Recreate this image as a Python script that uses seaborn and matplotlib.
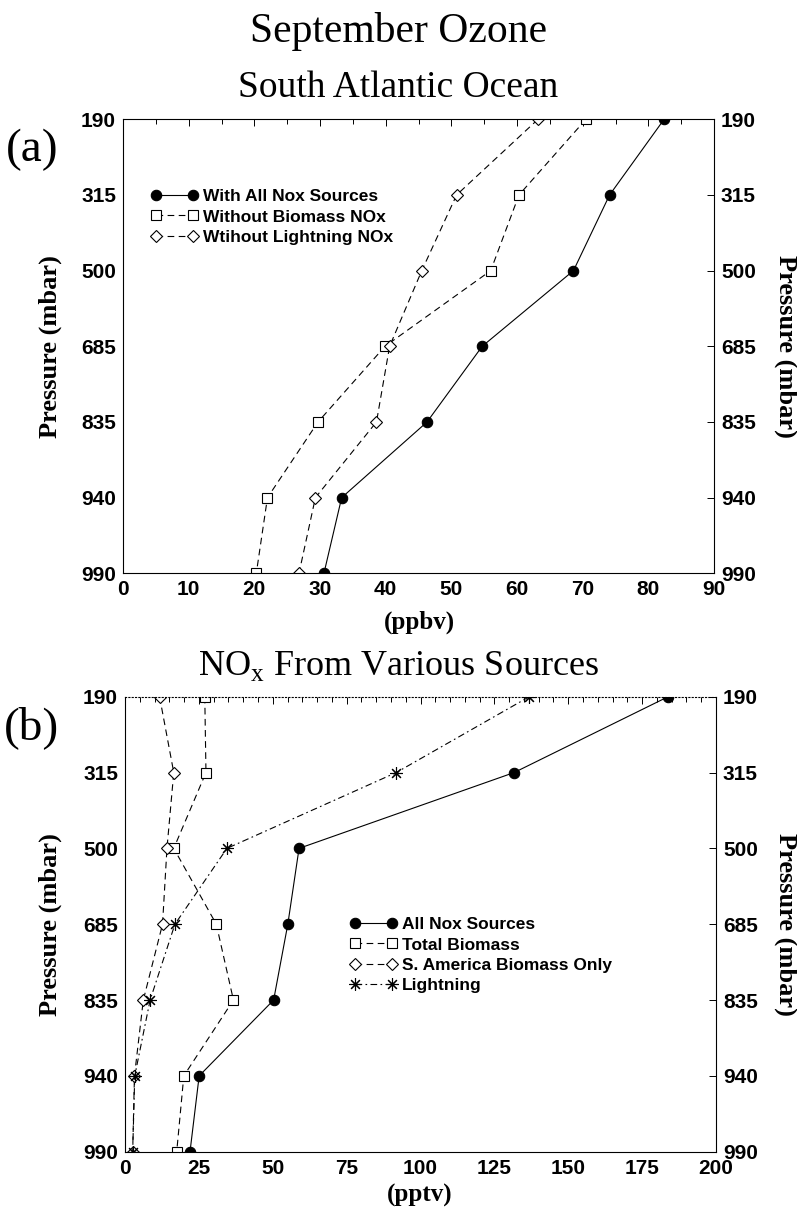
import numpy as np
import pandas as pd
import matplotlib
matplotlib.use("Agg")
import matplotlib.pyplot as plt
from matplotlib.font_manager import FontProperties
import seaborn as sns

# ---------------- data ----------------
pressure_levels = ["190", "315", "500", "685", "835", "940", "990"]

# (a) September ozone, South Atlantic (ppbv)
ozone_all = [82.4, 74.1, 68.6, 54.7, 46.3, 33.3, 30.6]
ozone_no_biomass = [70.5, 60.3, 56.0, 39.9, 29.7, 22.0, 20.3]
ozone_no_lightning = [63.2, 50.8, 45.5, 40.6, 38.6, 29.3, 26.8]
labels_a = ["With All Nox Sources", "Without Biomass NOx", "Wtihout Lightning NOx"]

# (b) NOx from various sources (pptv)
nox_all = [183.8, 131.7, 58.9, 55.1, 50.3, 25.1, 22.0]
nox_total_biomass = [27.0, 27.4, 16.5, 30.9, 36.7, 19.9, 17.5]
nox_sa_biomass = [11.7, 16.5, 14.2, 12.7, 6.2, 3.2, 2.6]
nox_lightning = [136.8, 91.8, 34.5, 16.9, 8.5, 3.3, 2.6]
labels_b = ["All Nox Sources", "Total Biomass", "S. America Biomass Only", "Lightning"]

# ---------------- styles ----------------
sns.set_theme(style="white")
plt.rcParams["font.family"] = ["Liberation Sans", "DejaVu Sans"]
plt.rcParams["text.color"] = "black"

W, H = 797, 1211
fig = plt.figure(figsize=(W / 100, H / 100), dpi=100)

def px_axes(l, t, r, b):
    return [l / W, 1 - b / H, (r - l) / W, (b - t) / H]

ax_a = fig.add_axes(px_axes(123, 119.3, 714, 573.3))
ax_b = fig.add_axes(px_axes(125, 696.7, 716, 1151.7))

ypos = list(range(len(pressure_levels)))

solid = dict(marker="o", markersize=7.5, markerfacecolor="black", linestyle="-")
square = dict(marker="s", markersize=6.5, markerfacecolor="white", linestyle=(0, (6, 4)))
diamond = dict(marker="D", markersize=6.5, markerfacecolor="white", linestyle=(0, (6, 4)))
star = dict(marker=(8, 2, 0), markersize=9, markerfacecolor="black", linestyle=(0, (6, 3, 1.5, 3)))

def draw(ax, values, label, style):
    df = pd.DataFrame({"v": values, "p": ypos})
    sns.lineplot(data=df, x="v", y="p", ax=ax, sort=False, estimator=None,
                 color="black", linewidth=0.8, markeredgecolor="black",
                 markeredgewidth=0.8, label=label, **style)

draw(ax_a, ozone_all, labels_a[0], solid)
draw(ax_a, ozone_no_biomass, labels_a[1], square)
draw(ax_a, ozone_no_lightning, labels_a[2], diamond)

draw(ax_b, nox_all, labels_b[0], solid)
draw(ax_b, nox_total_biomass, labels_b[1], square)
draw(ax_b, nox_sa_biomass, labels_b[2], diamond)
draw(ax_b, nox_lightning, labels_b[3], star)

tick_font = FontProperties(family="Liberation Sans", weight="bold", size=15)
leg_font = FontProperties(family="Liberation Sans", weight="bold", size=12.5)
serif = "Liberation Serif"

def style_axes(ax, xmax, major, minor):
    ax.set_xlim(0, xmax)
    ax.set_ylim(len(pressure_levels) - 1, 0)
    ax.set_xticks(np.arange(0, xmax + 0.1, major))
    ax.set_xticks(np.arange(0, xmax + 0.1, minor), minor=True)
    ax.set_yticks(ypos)
    ax.set_yticklabels(pressure_levels)
    ax.set_xlabel("")
    ax.set_ylabel("")
    ax.tick_params(axis="both", which="both", direction="in", top=True, right=True,
                   labelright=True, width=0.7, colors="black")
    ax.tick_params(axis="both", which="major", length=5)
    ax.tick_params(axis="both", which="minor", length=3.5)
    ax.tick_params(axis="x", pad=5)
    ax.tick_params(axis="y", pad=5)
    for lab in ax.get_xticklabels() + ax.get_yticklabels():
        lab.set_fontproperties(tick_font)
    for sp in ax.spines.values():
        sp.set_linewidth(0.8)
        sp.set_color("black")
    ax.set_facecolor("white")

style_axes(ax_a, 90, 10, 5)
style_axes(ax_b, 200, 25, 5)
ax_b.spines["top"].set_linestyle((0, (1, 2)))

def legend(ax, x, y):
    h, l = ax.get_legend_handles_labels()
    ax.legend(h, l, loc="upper left", bbox_to_anchor=(x / W, 1 - y / H),
              bbox_transform=fig.transFigure, frameon=False, numpoints=2,
              handlelength=2.7, handletextpad=0.3, labelspacing=0.3,
              borderpad=0, borderaxespad=0, prop=leg_font)

legend(ax_a, 151, 189)
legend(ax_b, 350, 917)

# ---------------- texts ----------------
fig.text(0.5, 1 - 42 / H, "September Ozone", ha="center", va="baseline", family=serif, size=30)
fig.text(0.5, 1 - 97 / H, "South Atlantic Ocean", ha="center", va="baseline", family=serif, size=27)
fig.text(0.5, 1 - 675 / H, r"NO$_{\mathregular{x}}$ From Various Sources", ha="center",
         va="baseline", family=serif, size=26)

fig.text(32 / W, 1 - 150 / H, "(a)", ha="center", va="center", family=serif, size=34)
fig.text(32 / W, 1 - 728 / H, "(b)", ha="center", va="center", family=serif, size=34)

for top, bot in [(119.3, 573.3), (696.7, 1151.7)]:
    yc = 1 - (top + bot) / 2 / H
    fig.text(50 / W, yc, "Pressure (mbar)", rotation=90, ha="center", va="center",
             family=serif, weight="bold", size=19)
    fig.text(786 / W, yc, "Pressure (mbar)", rotation=270, ha="center", va="center",
             family=serif, weight="bold", size=19)

fig.text(419 / W, 1 - 622 / H, "(ppbv)", ha="center", va="center", family=serif, weight="bold", size=18)
fig.text(420 / W, 1 - 1195 / H, "(pptv)", ha="center", va="center", family=serif, weight="bold", size=18)

fig.savefig("out.png", dpi=100, facecolor="white")
